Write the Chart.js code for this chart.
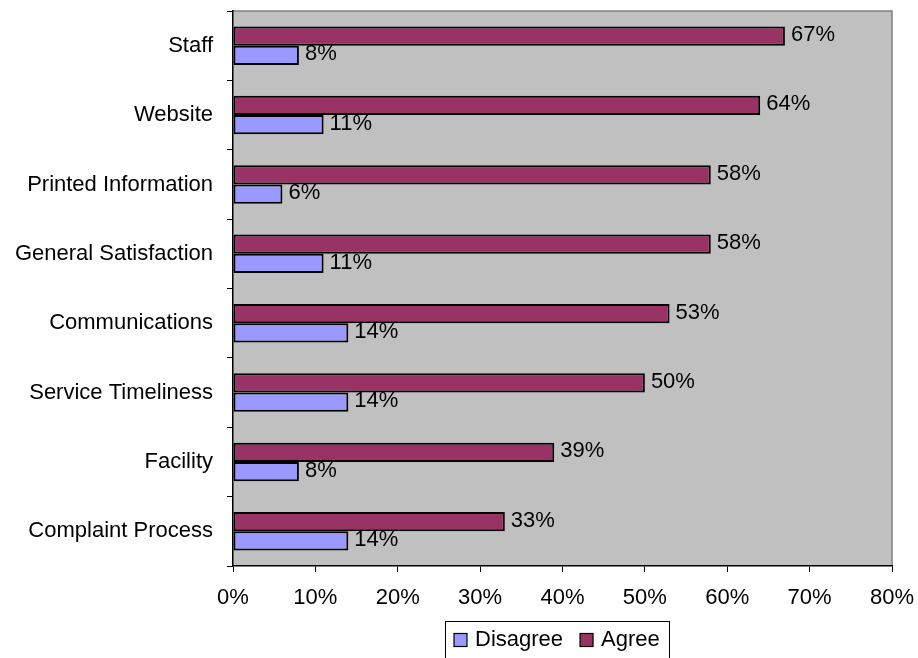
<!DOCTYPE html>
<html>
<head>
<meta charset="utf-8">
<script src="https://cdn.jsdelivr.net/npm/chart.js@4/dist/chart.umd.min.js"></script>
<style>
html,body{margin:0;padding:0;background:#fff;}
#wrap{width:918px;height:658px;position:relative;}
</style>
</head>
<body>
<div id="wrap"><canvas id="c" width="918" height="658"></canvas></div>
<script>
const categories = ["Staff","Website","Printed Information","General Satisfaction","Communications","Service Timeliness","Facility","Complaint Process"];
const agreeValues = [67,64,58,58,53,50,39,33];
const disagreeValues = [8,11,6,11,14,14,8,14];
const xTicks = [0,10,20,30,40,50,60,70,80];

const FONT = 'Liberation Sans, Arial, sans-serif';
const FS = 22;

const bgPlugin = {
  id:'bg',
  beforeDraw(chart){
    const {ctx, chartArea:a} = chart;
    ctx.save();
    ctx.fillStyle = '#C0C0C0';
    ctx.fillRect(a.left, a.top, a.right-a.left, a.bottom-a.top);
    ctx.strokeStyle = '#808080';
    ctx.lineWidth = 1.5;
    ctx.beginPath();
    ctx.moveTo(a.left, a.top);
    ctx.lineTo(a.right, a.top);
    ctx.lineTo(a.right, a.bottom);
    ctx.stroke();
    ctx.restore();
  }
};

const labelPlugin = {
  id:'vals',
  afterDatasetsDraw(chart){
    const {ctx} = chart;
    ctx.save();
    ctx.font = FS + 'px ' + FONT;
    ctx.fillStyle = '#000';
    ctx.textAlign = 'left';
    ctx.textBaseline = 'middle';
    chart.data.datasets.forEach((ds, di) => {
      const meta = chart.getDatasetMeta(di);
      meta.data.forEach((bar, i) => {
        ctx.fillText(ds.data[i] + '%', bar.x + 6, bar.y - 1);
      });
    });
    ctx.restore();
  }
};

const legendPlugin = {
  id:'customLegend',
  afterDraw(chart){
    const {ctx} = chart;
    const items = chart.data.datasets.slice().reverse();
    ctx.save();
    ctx.font = FS + 'px ' + FONT;
    ctx.strokeStyle = '#000';
    ctx.lineWidth = 1;
    ctx.strokeRect(445.5, 621.5, 224, 40);
    let x = 454;
    const cy = 639.5;
    items.forEach(ds => {
      ctx.fillStyle = ds.backgroundColor;
      ctx.fillRect(x, cy - 6, 13, 13);
      ctx.strokeStyle = '#000';
      ctx.lineWidth = 1.2;
      ctx.strokeRect(x, cy - 6, 13, 13);
      ctx.fillStyle = '#000';
      ctx.textAlign = 'left';
      ctx.textBaseline = 'middle';
      ctx.fillText(ds.label, x + 21, cy);
      x += 21 + ctx.measureText(ds.label).width + 17;
    });
    ctx.restore();
  }
};

new Chart(document.getElementById('c'), {
  type:'bar',
  data:{
    labels: categories,
    datasets:[
      {label:'Agree', data: agreeValues, backgroundColor:'#993366', borderColor:'#000', borderWidth:2, borderSkipped:false},
      {label:'Disagree', data: disagreeValues, backgroundColor:'#9999FF', borderColor:'#000', borderWidth:2, borderSkipped:false}
    ]
  },
  options:{
    indexAxis:'y',
    responsive:false,
    animation:false,
    devicePixelRatio:1,
    layout:{padding:{top:11, right:26, bottom:0, left:0}},
    datasets:{bar:{categoryPercentage:0.556, barPercentage:1}},
    plugins:{legend:{display:false}, tooltip:{enabled:false}},
    scales:{
      x:{
        min:0, max:80,
        afterBuildTicks(scale){ scale.ticks = xTicks.map(v => ({value:v})); },
        ticks:{callback:v => v + '%', font:{size:FS, family:FONT}, color:'#000', padding:13, maxRotation:0},
        grid:{drawOnChartArea:false, tickLength:6, color:'#000', tickWidth:1},
        border:{color:'#000', width:1.5},
        afterFit(scale){ scale.height = 92; scale.paddingLeft = 0; scale.paddingRight = 0; }
      },
      y:{
        ticks:{font:{size:FS, family:FONT}, color:'#000', padding:14},
        grid:{drawOnChartArea:false, offset:true, tickLength:6, color:'#000', tickWidth:1},
        border:{color:'#000', width:1.5},
        afterFit(scale){ scale.width = 233; scale.paddingTop = 0; scale.paddingBottom = 0; }
      }
    }
  },
  plugins:[bgPlugin, labelPlugin, legendPlugin]
});
</script>
</body>
</html>
